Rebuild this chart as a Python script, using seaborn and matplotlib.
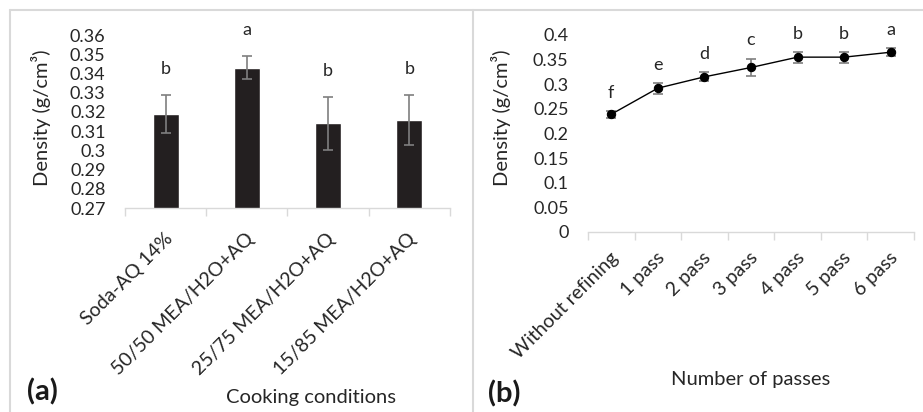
import numpy as np
import matplotlib
matplotlib.use('Agg')
import matplotlib.pyplot as plt
import matplotlib.transforms as mtransforms
from matplotlib.lines import Line2D
from matplotlib.ticker import FixedLocator, FuncFormatter
import seaborn as sns

# (a) cooking conditions
conditions = ['Soda-AQ 14%', '50/50 MEA/H2O+AQ', '25/75 MEA/H2O+AQ', '15/85 MEA/H2O+AQ']
density_a = [0.319, 0.343, 0.314, 0.316]
err_a = [0.010, 0.006, 0.014, 0.013]
letters_a = ['b', 'a', 'b', 'b']

# (b) refining passes
passes = ['Without refining', '1 pass', '2 pass', '3 pass', '4 pass', '5 pass', '6 pass']
density_b = [0.239, 0.292, 0.315, 0.334, 0.355, 0.355, 0.365]
err_b = [0.007, 0.011, 0.009, 0.018, 0.011, 0.011, 0.008]
letters_b = ['f', 'e', 'd', 'c', 'b', 'b', 'a']

sns.set_style('white')
plt.rcParams['font.family'] = ['Lato', 'DejaVu Sans']

txt = '#262626'
light = '#d9d9d9'
fs_num = 13
fs_cat = 14
fs_title = 14.5


def excel_fmt(v, pos):
    return f'{v:.2f}'.rstrip('0').rstrip('.')


def style_axis(ax, n, pad_x):
    for s in ['left', 'top', 'right']:
        ax.spines[s].set_visible(False)
    ax.spines['bottom'].set_color(light)
    ax.spines['bottom'].set_linewidth(1)
    ax.set_xlim(-0.5, n - 0.5)
    ax.xaxis.set_minor_locator(FixedLocator(np.arange(n + 1) - 0.5))
    ax.tick_params(axis='x', which='minor', length=6, color=light, width=1, bottom=True)
    ax.tick_params(axis='x', which='major', length=0, pad=pad_x, labelsize=fs_cat, labelcolor=txt)
    ax.tick_params(axis='y', length=0, pad=14, labelsize=fs_num, labelcolor=txt)
    ax.yaxis.set_major_formatter(FuncFormatter(excel_fmt))
    shift = mtransforms.ScaledTranslation(0.04, 0, ax.figure.dpi_scale_trans)
    for lab in ax.get_xticklabels():
        lab.set_rotation(45)
        lab.set_ha('right')
        lab.set_va('center')
        lab.set_rotation_mode('anchor')
        lab.set_transform(lab.get_transform() + shift)


fig = plt.figure(figsize=(9.23, 4.12), dpi=100)

# panel (a)
ax1 = fig.add_axes([0.1354, 0.4951, 0.3521, 0.4199])
sns.barplot(x=conditions, y=density_a, color='#231f20', saturation=1, width=0.32,
            errorbar=None, ax=ax1)
ax1.errorbar(range(len(conditions)), density_a, yerr=err_a, fmt='none', ecolor='#7f7f7f',
             elinewidth=1.2, capsize=3.5, capthick=1.2)
for i, (v, e, l) in enumerate(zip(density_a, err_a, letters_a)):
    ax1.annotate(l, (i, v + e), xytext=(0, 15), textcoords='offset points',
                 ha='center', va='baseline', fontsize=fs_num, color=txt)
ax1.set_ylim(0.27, 0.36)
ax1.set_yticks(np.arange(0.27, 0.3601, 0.01))
style_axis(ax1, len(conditions), 20)
ax1.set_ylabel('Density (g/cm³)', fontsize=fs_title, color=txt)
ax1.yaxis.set_label_coords(-0.228, 0.52)
ax1.set_xlabel('Cooking conditions', fontsize=fs_title, color=txt)
ax1.xaxis.label.set_va('center')
ax1.xaxis.set_label_coords(0.572, -1.098)

# panel (b)
ax2 = fig.add_axes([0.637, 0.4369, 0.3533, 0.4782])
ax2.errorbar(range(len(passes)), density_b, yerr=err_b, fmt='none', ecolor='#7f7f7f',
             elinewidth=1.2, capsize=3.5, capthick=1.2, zorder=1.5)
sns.pointplot(x=passes, y=density_b, color='black', markers='o', markersize=6,
              linewidth=1, errorbar=None, ax=ax2)
for i, (v, e, l) in enumerate(zip(density_b, err_b, letters_b)):
    ax2.annotate(l, (i, v + e), xytext=(0, 9.5), textcoords='offset points',
                 ha='center', va='baseline', fontsize=fs_num, color=txt)
ax2.set_ylim(0, 0.4)
ax2.set_yticks(np.arange(0, 0.4001, 0.05))
style_axis(ax2, len(passes), 16.5)
ax2.set_ylabel('Density (g/cm³)', fontsize=fs_title, color=txt)
ax2.yaxis.set_label_coords(-0.236, 0.579)
ax2.set_xlabel('Number of passes', fontsize=fs_title, color=txt)
ax2.xaxis.label.set_va('center')
ax2.xaxis.set_label_coords(0.5, -0.751)

# panel labels and frame
fig.text(27 / 923, 1 - 392 / 412, '(a)', fontsize=21, fontweight='bold', va='center', color='#1a1a1a')
fig.text(488 / 923, 1 - 394 / 412, '(b)', fontsize=21, fontweight='bold', va='center', color='#1a1a1a')
for xs, ys in [([10 / 923, 1], [1 - 10 / 412] * 2),
               ([10 / 923] * 2, [0, 1 - 10 / 412]),
               ([473 / 923] * 2, [0, 1 - 10 / 412])]:
    fig.add_artist(Line2D(xs, ys, color=light, lw=1.5, transform=fig.transFigure))

fig.savefig('out.png', dpi=100)
